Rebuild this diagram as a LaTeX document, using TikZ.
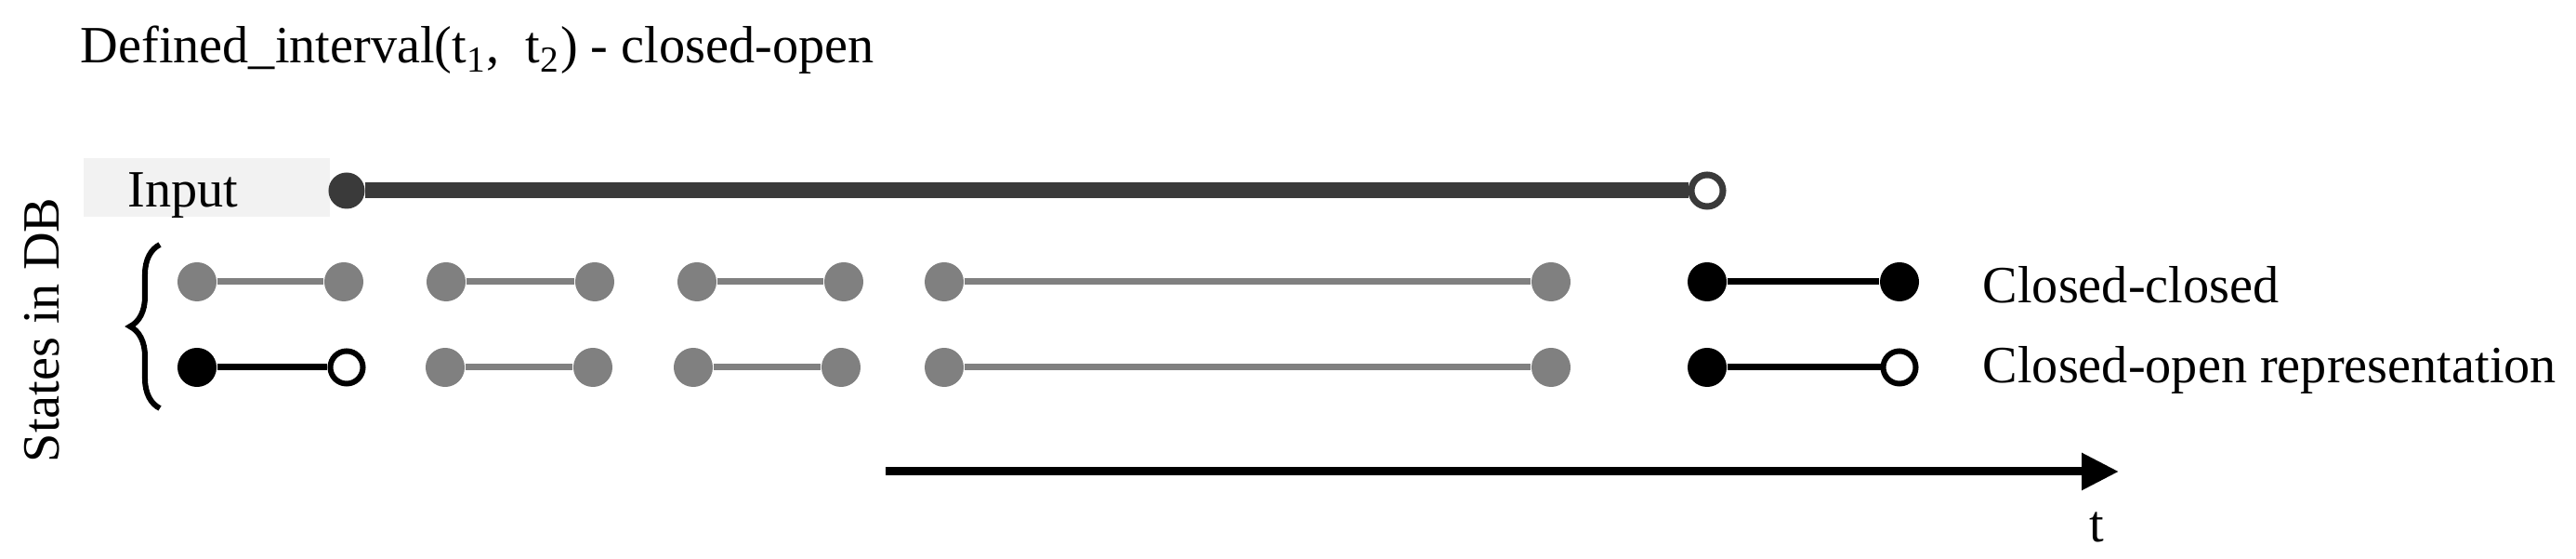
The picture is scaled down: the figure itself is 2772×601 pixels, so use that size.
\documentclass[tikz,border=0pt]{standalone}
\usepackage{fontspec}
\setmainfont{Liberation Serif}
\usetikzlibrary{positioning,calc,decorations.pathreplacing,arrows.meta}
\definecolor{dotgray}{HTML}{808080}
\definecolor{inputgray}{HTML}{3A3A3A}
\definecolor{boxgray}{HTML}{F2F2F2}

\begin{document}
\begin{tikzpicture}[x=0.01cm, y=-0.01cm, font=\fontsize{16pt}{19pt}\selectfont]
		\tikzstyle{gdot}=[circle, fill=dotgray, inner sep=0pt, minimum size=0.42cm]
		\tikzstyle{bdot}=[circle, fill=black, inner sep=0pt, minimum size=0.42cm]
		\tikzstyle{odot}=[circle, draw=black, fill=white, line width=0.06cm, inner sep=0pt, minimum
		size=0.35cm]
		\tikzstyle{idot}=[circle, fill=inputgray, inner sep=0pt, minimum size=0.39cm]
		\tikzstyle{iodot}=[circle, draw=inputgray, fill=white, line width=0.07cm, inner sep=0pt, minimum
		size=0.34cm]
		\tikzstyle{gline}=[dotgray, line width=0.07cm]
		\tikzstyle{bline}=[black, line width=0.07cm]
		\tikzstyle{txt}=[anchor=base west, inner sep=0pt]
		
		\useasboundingbox (0,0) rectangle (2772,601);
		
		\node [txt] (title) at (86,68) {Defined\_interval(t\textsubscript{1},\ \ t\textsubscript{2}) - closed-open};
		
		\node [fill=boxgray, anchor=west, minimum width=2.65cm, minimum height=0.63cm] (inbox) at
		(89,201.5) {}; \node [txt] (inlbl) at (137,223) {Input};
		
		\node [idot] (in1) at (373,205) {}; \node [iodot] (in2) at (1837,205) {};
		
		\node [gdot] (cc1) at (212,303) {}; \node [gdot] (cc2) at ($(cc1)+(158,0)$) {};
		\node [gdot] (cc3) at (480,303) {}; \node [gdot] (cc4) at ($(cc3)+(160,0)$) {};
		\node [gdot] (cc5) at (750,303) {}; \node [gdot] (cc6) at ($(cc5)+(158,0)$) {};
		\node [gdot] (cc7) at (1016,303) {}; \node [gdot] (cc8) at ($(cc7)+(653,0)$) {};
		\node [bdot] (cc9) at (1837,303) {}; \node [bdot] (cc10) at ($(cc9)+(207,0)$) {};
		
		\node [bdot] (co1) at ($(cc1)+(0,92)$) {}; \node [odot] (co2) at ($(cc2)+(3,92)$) {};
		\node [gdot] (co3) at ($(cc3)+(-1,92)$) {}; \node [gdot] (co4) at ($(cc4)+(-2,92)$) {};
		\node [gdot] (co5) at ($(cc5)+(-4,92)$) {}; \node [gdot] (co6) at ($(cc6)+(-3,92)$) {};
		\node [gdot] (co7) at ($(cc7)+(0,92)$) {}; \node [gdot] (co8) at ($(cc8)+(0,92)$) {};
		\node [bdot] (co9) at ($(cc9)+(0,92)$) {}; \node [odot] (co10) at ($(cc10)+(0,92)$) {};
		
		\node [txt] (lcc) at (2133,326) {Closed-closed};
		\node [txt] (lco) at (2133,412) {Closed-open representation};
		\node [rotate=90, anchor=base, inner sep=0pt] (db) at (64,355) {States in DB};
		\node [anchor=base, inner sep=0pt] (tlbl) at (2256,583) {t};
		
		\coordinate (br1) at (172,439); \coordinate (br2) at (172,263);
		\coordinate (ax0) at (953,507); \coordinate (ax1) at (2280,507);
		
		\draw [inputgray, line width=0.17cm] (in1) to (in2);
		\draw [gline] (cc1) to (cc2); \draw [gline] (cc3) to (cc4); \draw [gline] (cc5) to (cc6);
		\draw [gline] (cc7) to (cc8); \draw [bline] (cc9) to (cc10);
		\draw [bline] (co1) to (co2); \draw [gline] (co3) to (co4); \draw [gline] (co5) to (co6);
		\draw [gline] (co7) to (co8); \draw [bline] (co9) to (co10);
		\draw [decorate, decoration={brace, amplitude=0.32cm}, line width=0.06cm] (br1) to (br2);
		\draw [-{Triangle[length=0.4cm, width=0.38cm]}, line width=0.09cm] (ax0) to (ax1);
	\end{tikzpicture}
\end{document}
